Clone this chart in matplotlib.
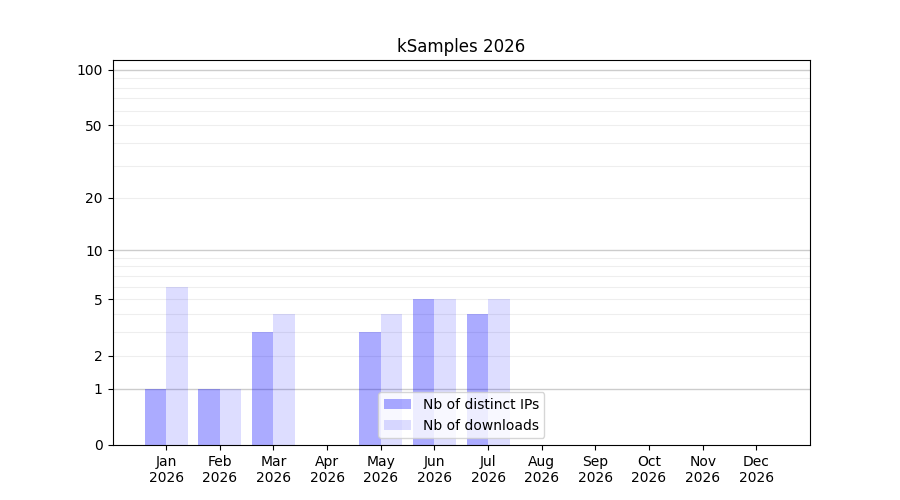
import matplotlib
matplotlib.use("Agg")
import matplotlib.pyplot as plt
import numpy as np

months = ["Jan", "Feb", "Mar", "Apr", "May", "Jun",
          "Jul", "Aug", "Sep", "Oct", "Nov", "Dec"]
year = 2026
distinct_ips = [1, 1, 3, 0, 3, 5, 4, 0, 0, 0, 0, 0]
downloads = [6, 1, 4, 0, 4, 5, 5, 0, 0, 0, 0, 0]
ytick_vals = [0, 1, 2, 5, 10, 20, 50, 100]
major_grid = [1, 10, 100]
minor_grid = [2, 3, 4, 5, 6, 7, 8, 9, 20, 30, 40, 50, 60, 70, 80, 90]


def fwd(y):
    return np.log10(np.asarray(y, dtype=float) + 1)


def inv(y):
    return 10 ** np.asarray(y, dtype=float) - 1


x = np.arange(len(months))
fig, ax = plt.subplots(figsize=(9, 5), dpi=100)
ax.set_yscale("function", functions=(fwd, inv))

for v in major_grid:
    ax.axhline(v, color="#cccccc", lw=1, zorder=0)
for v in minor_grid:
    ax.axhline(v, color="#eeeeee", lw=0.8, zorder=0)

ax.bar(x - 0.2, distinct_ips, width=0.4, color="blue", alpha=0.33,
       label="Nb of distinct IPs", zorder=2)
ax.bar(x + 0.2, downloads, width=0.4, color="blue", alpha=0.135,
       label="Nb of downloads", zorder=2)

ax.set_yticks(ytick_vals)
ax.set_yticklabels([str(v) for v in ytick_vals])
ax.yaxis.set_minor_locator(matplotlib.ticker.NullLocator())
ax.set_ylim(0, 113)
ax.set_xlim(-1, 12)
ax.set_xticks(x)
ax.set_xticklabels([f"{m}\n{year}" for m in months])
ax.set_title("kSamples 2026")
ax.legend(loc="lower center")

fig.savefig("out.png")
